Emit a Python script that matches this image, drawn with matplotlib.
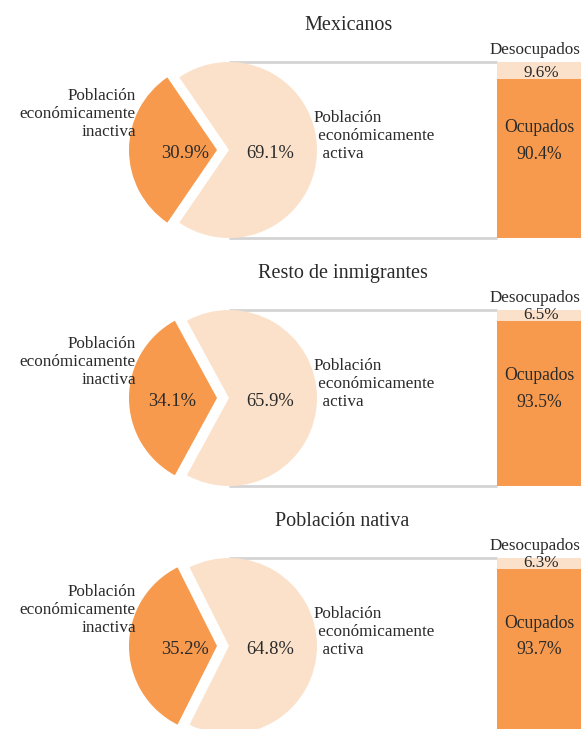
import matplotlib.pyplot as plt

plt.rcParams['font.family'] = ['Liberation Serif', 'DejaVu Serif']

# datos
grupos = ["Mexicanos", "Resto de inmigrantes", "Población nativa"]
inactiva = [30.9, 34.1, 35.2]
activa = [69.1, 65.9, 64.8]
desocupados = [9.6, 6.5, 6.3]
ocupados = [90.4, 93.5, 93.7]

claro = "#FCE1CA"
oscuro = "#F79A4D"
gris = "#D4D4D4"
texto = "#2A2A2A"

W, H = 581, 729
fig = plt.figure(figsize=(W / 100, H / 100), dpi=100)
ax = fig.add_axes([0, 0, 1, 1])

# centros de cada pastel (pixeles desde arriba)
centros_y = [150, 398, 646]
cx = 229
r = 88
bar_x0 = 497
bar_w = 92
titulos_x = [349, 343, 342]


def Y(y):
    return H - y


for i, g in enumerate(grupos):
    cy = Y(centros_y[i])
    ini = 180 - inactiva[i] / 100 * 180
    ax.pie([inactiva[i], activa[i]], colors=[oscuro, claro], startangle=ini,
           explode=[12, 0], center=(cx, cy), radius=r, frame=True,
           wedgeprops=dict(linewidth=0))

    # lineas de conexion
    ax.plot([cx, bar_x0], [cy + r, cy + r], color=gris, lw=2, zorder=0,
            solid_capstyle='butt')
    ax.plot([cx, bar_x0], [cy - r, cy - r], color=gris, lw=2, zorder=0,
            solid_capstyle='butt')

    # barra apilada
    escala = 2 * r / 100
    ax.bar(bar_x0 + bar_w / 2, ocupados[i] * escala, bottom=cy - r,
           width=bar_w, color=oscuro, linewidth=0, zorder=3)
    ax.bar(bar_x0 + bar_w / 2, desocupados[i] * escala,
           bottom=cy - r + ocupados[i] * escala, width=bar_w, color=claro,
           linewidth=0, zorder=1)

    # textos
    ax.text(titulos_x[i], Y(centros_y[i] - 125), g, ha='center',
            va='center', fontsize=14.5, color=texto)
    ax.text(535, Y(centros_y[i] - 100), "Desocupados", ha='center',
            va='center', fontsize=12.3, color=texto)
    ax.text(541, cy - r + ocupados[i] * escala + 6, f"{desocupados[i]}%",
            ha='center', va='center', fontsize=12.3, color=texto, zorder=2)
    ax.text(539, Y(centros_y[i] - 23), "Ocupados", ha='center', va='center',
            fontsize=12.7, color=texto, zorder=4)
    ax.text(539, Y(centros_y[i] + 4), f"{ocupados[i]}%", ha='center',
            va='center', fontsize=12.7, color=texto, zorder=4)

    ax.text(136, Y(centros_y[i] - 36), "Población\neconómicamente\ninactiva",
            ha='right', va='center', fontsize=12.3, color=texto,
            linespacing=1.2)
    ax.text(314, Y(centros_y[i] - 14),
            "Población\n económicamente\n  activa",
            ha='left', va='center', fontsize=12.3, color=texto,
            linespacing=1.2)

    ax.text(185 - (13 if i == 1 else 0), Y(centros_y[i] + 3),
            f"{inactiva[i]}%", ha='center', va='center', fontsize=13.3,
            color=texto)
    ax.text(270, Y(centros_y[i] + 3), f"{activa[i]}%", ha='center',
            va='center', fontsize=13.3, color=texto)

ax.set_xlim(0, W)
ax.set_ylim(0, H)
ax.set_aspect('auto')
ax.axis('off')

fig.savefig("out.png", dpi=100)
